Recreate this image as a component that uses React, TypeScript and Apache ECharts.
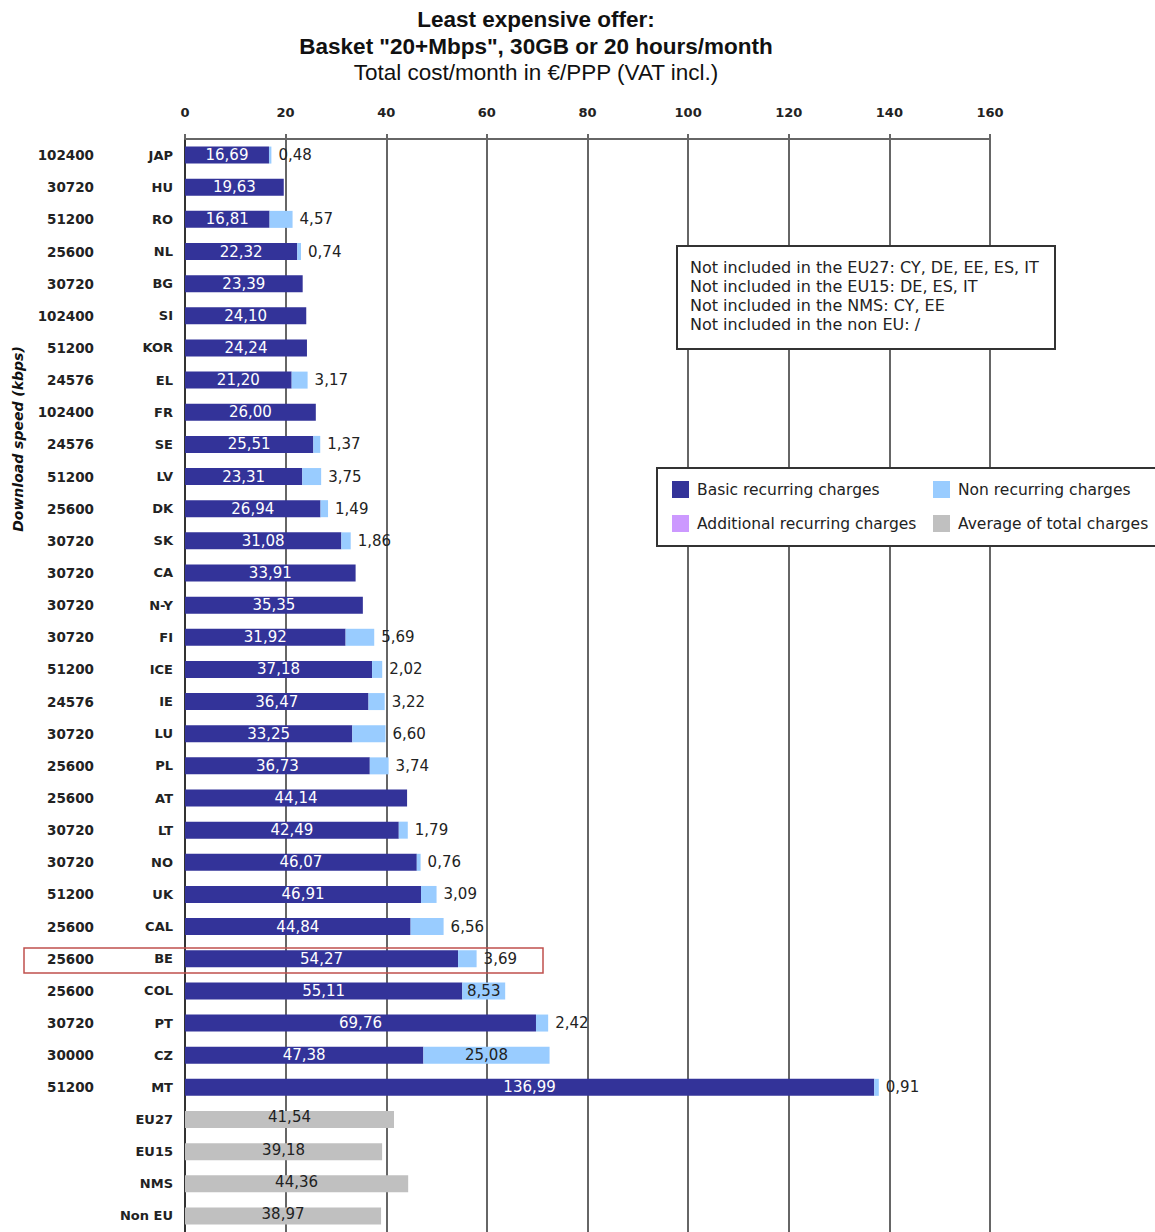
import React, { useEffect, useRef } from "react";
import * as echarts from "echarts";

const categories = [
  "JAP", "HU", "RO", "NL", "BG", "SI", "KOR", "EL", "FR", "SE", "LV", "DK", "SK", "CA", "N-Y",
  "FI", "ICE", "IE", "LU", "PL", "AT", "LT", "NO", "UK", "CAL", "BE", "COL", "PT", "CZ", "MT",
  "EU27", "EU15", "NMS", "Non EU",
];
const speeds = [
  "102400", "30720", "51200", "25600", "30720", "102400", "51200", "24576", "102400", "24576",
  "51200", "25600", "30720", "30720", "30720", "30720", "51200", "24576", "30720", "25600",
  "25600", "30720", "30720", "51200", "25600", "25600", "25600", "30720", "30000", "51200",
  "", "", "", "",
];
const basicRecurring = [
  16.69, 19.63, 16.81, 22.32, 23.39, 24.1, 24.24, 21.2, 26.0, 25.51,
  23.31, 26.94, 31.08, 33.91, 35.35, 31.92, 37.18, 36.47, 33.25, 36.73,
  44.14, 42.49, 46.07, 46.91, 44.84, 54.27, 55.11, 69.76, 47.38, 136.99,
  null, null, null, null,
];
const nonRecurring = [
  0.48, null, 4.57, 0.74, null, null, null, 3.17, null, 1.37,
  3.75, 1.49, 1.86, null, null, 5.69, 2.02, 3.22, 6.6, 3.74,
  null, 1.79, 0.76, 3.09, 6.56, 3.69, 8.53, 2.42, 25.08, 0.91,
  null, null, null, null,
];
const averageTotal = [
  null, null, null, null, null, null, null, null, null, null,
  null, null, null, null, null, null, null, null, null, null,
  null, null, null, null, null, null, null, null, null, null,
  41.54, 39.18, 44.36, 38.97,
];
const xTicks = [0, 20, 40, 60, 80, 100, 120, 140, 160];
const seriesNames = [
  "Basic recurring charges",
  "Non recurring charges",
  "Additional recurring charges",
  "Average of total charges",
];
const seriesColors = ["#333399", "#99ccff", "#cc99ff", "#c0c0c0"];
const notes = [
  "Not included in the EU27: CY, DE, EE, ES, IT",
  "Not included in the EU15: DE, ES, IT",
  "Not included in the NMS: CY, EE",
  "Not included in the non EU: /",
];

const FONT = "'DejaVu Sans', Verdana, sans-serif";
const TFONT = "'Liberation Sans', Arial, sans-serif";
const fmt = (v: number) => v.toFixed(2).replace(".", ",");

export default function App() {
  const ref = useRef<HTMLDivElement>(null);
  useEffect(() => {
    if (!ref.current) return;
    const chart = echarts.init(ref.current, undefined, { renderer: "svg" });
    const valueLabel = (color: string) => ({
      show: true,
      position: "inside",
      color,
      fontFamily: FONT,
      fontSize: 15,
      formatter: (p: any) => (p.value == null ? "" : fmt(Number(p.value))),
    });
    const legendPos = [
      [672, 489],
      [933, 489],
      [672, 523],
      [933, 523],
    ];
    const legendChildren: any[] = [
      {
        type: "rect",
        z: 100,
        shape: { x: 657, y: 468, width: 520, height: 78 },
        style: { fill: "#ffffff", stroke: "#333", lineWidth: 2 },
      },
    ];
    seriesNames.forEach((n, i) => {
      const [x, y] = legendPos[i];
      legendChildren.push({
        type: "rect",
        z: 101,
        shape: { x, y: y - 8, width: 17, height: 17 },
        style: { fill: seriesColors[i] },
      });
      legendChildren.push({
        type: "text",
        z: 101,
        x: x + 25,
        y: y + 1,
        style: {
          text: n,
          fontFamily: FONT,
          fontSize: 15.5,
          fill: "#222",
          textVerticalAlign: "middle",
        },
      });
    });
    chart.setOption({
      animation: false,
      backgroundColor: "#ffffff",
      grid: { left: 185, right: 165, top: 139, height: 1094, containLabel: false },
      xAxis: {
        type: "value",
        position: "top",
        min: xTicks[0],
        max: xTicks[xTicks.length - 1],
        interval: 20,
        axisLine: { show: true, lineStyle: { color: "#666", width: 2 } },
        axisTick: { show: true, length: 5, lineStyle: { color: "#666", width: 2 } },
        axisLabel: { margin: 20, color: "#222", fontFamily: FONT, fontSize: 13, fontWeight: "bold" },
        splitLine: { show: true, lineStyle: { color: "#666", width: 2 } },
      },
      yAxis: [
        {
          type: "category",
          data: categories,
          inverse: true,
          axisLine: { show: true, lineStyle: { color: "#333", width: 2 } },
          axisTick: { show: false },
          axisLabel: { margin: 12, color: "#222", fontFamily: FONT, fontSize: 13, fontWeight: "bold" },
        },
        {
          type: "category",
          data: categories,
          inverse: true,
          position: "left",
          axisLine: { show: false },
          axisTick: { show: false },
          axisLabel: {
            margin: 91,
            color: "#222",
            fontFamily: FONT,
            fontSize: 13.5,
            fontWeight: "bold",
            formatter: (_v: string, i: number) => speeds[i],
          },
        },
      ],
      series: [
        {
          name: seriesNames[0],
          type: "bar",
          stack: "total",
          barWidth: 17,
          itemStyle: { color: seriesColors[0] },
          label: valueLabel("#ffffff"),
          data: basicRecurring,
        },
        {
          name: seriesNames[1],
          type: "bar",
          stack: "total",
          barWidth: 17,
          itemStyle: { color: seriesColors[1] },
          label: { ...valueLabel("#222"), distance: 7 },
          data: nonRecurring.map((v) =>
            v == null
              ? null
              : { value: v, label: { position: v >= 8 ? "inside" : "right" } }
          ),
        },
        {
          name: seriesNames[2],
          type: "bar",
          stack: "total",
          barWidth: 17,
          itemStyle: { color: seriesColors[2] },
          data: [],
        },
        {
          name: seriesNames[3],
          type: "bar",
          stack: "total",
          barWidth: 17,
          itemStyle: { color: seriesColors[3] },
          label: { ...valueLabel("#222"), offset: [0, -2] },
          data: averageTotal,
        },
      ],
      graphic: [
        {
          type: "text",
          x: 536,
          y: 19,
          style: {
            text: "Least expensive offer:",
            fontFamily: TFONT,
            fontSize: 22.5,
            fontWeight: "bold",
            fill: "#111",
            textAlign: "center",
            textVerticalAlign: "middle",
          },
        },
        {
          type: "text",
          x: 536,
          y: 46,
          style: {
            text: 'Basket "20+Mbps", 30GB or 20 hours/month',
            fontFamily: TFONT,
            fontSize: 22.5,
            fontWeight: "bold",
            fill: "#111",
            textAlign: "center",
            textVerticalAlign: "middle",
          },
        },
        {
          type: "text",
          x: 536,
          y: 72,
          style: {
            text: "Total cost/month in €/PPP (VAT incl.)",
            fontFamily: TFONT,
            fontSize: 22.5,
            fill: "#111",
            textAlign: "center",
            textVerticalAlign: "middle",
          },
        },
        {
          type: "text",
          x: 18,
          y: 439,
          rotation: Math.PI / 2,
          style: {
            text: "Download speed (kbps)",
            fontFamily: FONT,
            fontSize: 14,
            fontWeight: "bold",
            fontStyle: "italic",
            fill: "#111",
            textAlign: "center",
            textVerticalAlign: "middle",
          },
        },
        {
          type: "rect",
          z: 100,
          shape: { x: 677, y: 246, width: 378, height: 103 },
          style: { fill: "#ffffff", stroke: "#333", lineWidth: 2 },
        },
        ...notes.map((t, i) => ({
          type: "text",
          z: 101,
          x: 690,
          y: 267 + i * 19,
          style: {
            text: t,
            fontFamily: FONT,
            fontSize: 16,
            fill: "#222",
            textVerticalAlign: "middle",
          },
        })),
        ...legendChildren,
        {
          type: "rect",
          z: 100,
          shape: { x: 24, y: 948, width: 519, height: 25 },
          style: { fill: "none", stroke: "#c0504d", lineWidth: 1.5 },
        },
      ],
    });
    return () => chart.dispose();
  }, []);
  return (
    <div
      ref={ref}
      style={{ position: "absolute", left: 0, top: 0, width: 1155, height: 1232 }}
    />
  );
}
